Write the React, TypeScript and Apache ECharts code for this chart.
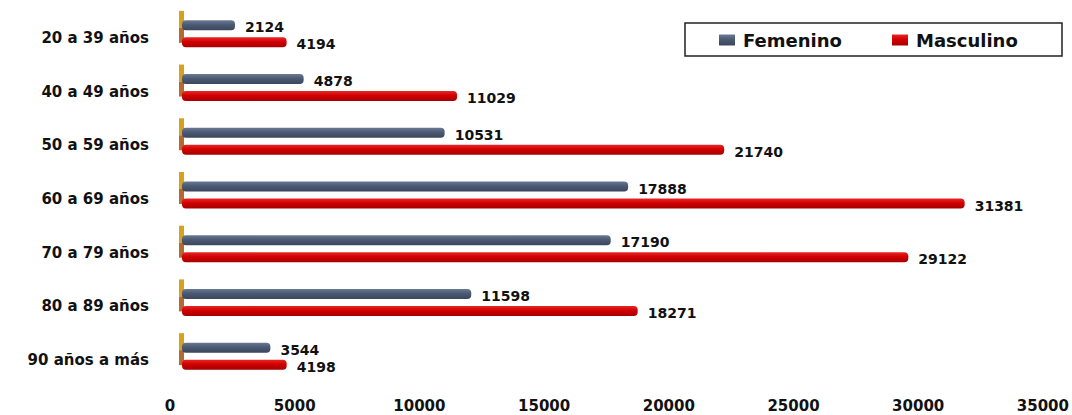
import React, { useEffect, useRef } from 'react';
import * as echarts from 'echarts';

const categories = ['20 a 39 años', '40 a 49 años', '50 a 59 años', '60 a 69 años', '70 a 79 años', '80 a 89 años', '90 años a más'];
const femenino = [2124, 4878, 10531, 17888, 17190, 11598, 3544];
const masculino = [4194, 11029, 21740, 31381, 29122, 18271, 4198];
const xMin = 0;
const xMax = 35000;
const xStep = 5000;
const seriesNames = ['Femenino', 'Masculino'];

const FONT = 'DejaVu Sans';

export default function App() {
  const ref = useRef<HTMLDivElement>(null);
  useEffect(() => {
    if (!ref.current) return;
    const chart = echarts.init(ref.current, null, { renderer: 'svg' });
    const grad = (a: string, b: string, c: string) =>
      new echarts.graphic.LinearGradient(0, 0, 0, 1, [
        { offset: 0, color: a },
        { offset: 0.45, color: b },
        { offset: 1, color: c },
      ]);
    const labelStyle = {
      show: true,
      position: 'right' as const,
      distance: 10,
      offset: [0, 2],
      color: '#111',
      fontFamily: FONT,
      fontWeight: 'bold' as const,
      fontSize: 14,
    };
    const legendBase = {
      top: 31,
      padding: 0,
      itemWidth: 16,
      itemHeight: 11,
      icon: 'rect',
      textStyle: { fontFamily: FONT, fontWeight: 'bold', fontSize: 18, color: '#111', padding: [0, 0, 0, 3] },
    };
    chart.setOption({
      animation: false,
      backgroundColor: '#fff',
      grid: { left: 182, right: 16, top: 7, bottom: 32, containLabel: false },
      xAxis: {
        type: 'value',
        min: xMin,
        max: xMax,
        interval: xStep,
        axisLine: { show: false },
        axisTick: { show: false },
        splitLine: { show: false },
        axisLabel: {
          margin: 15,
          formatter: (v: number) => '{a|' + v + '}',
          rich: {
            a: { fontFamily: FONT, fontWeight: 'bold', fontSize: 15, color: '#111', padding: [0, 24, 0, 0] },
          },
        },
      },
      yAxis: {
        type: 'category',
        inverse: true,
        data: categories,
        axisLine: { show: false },
        axisTick: { show: false },
        splitLine: { show: false },
        axisLabel: {
          margin: 33,
          formatter: (v: string) => '{a|' + v + '}',
          rich: {
            a: { fontFamily: FONT, fontWeight: 'bold', fontSize: 15, color: '#111', padding: [8, 0, 0, 0] },
          },
        },
      },
      legend: [
        { ...legendBase, data: [seriesNames[0]], left: 719 },
        { ...legendBase, data: [seriesNames[1]], left: 892 },
      ],
      graphic: [
        {
          type: 'rect',
          shape: { x: 685, y: 23, width: 377, height: 33 },
          style: { fill: 'none', stroke: '#222', lineWidth: 1.5 },
          z: 0,
        },
      ],
      series: [
        {
          type: 'custom',
          z: 1,
          silent: true,
          data: categories.map((c) => [0, c]),
          encode: { x: 0, y: 1 },
          renderItem: (params: any, api: any) => {
            const p = api.coord([0, api.value(1)]);
            const c = p[1];
            return {
              type: 'group',
              children: [
                { type: 'rect', shape: { x: p[0] - 3, y: c - 23, width: 5, height: 17 }, style: { fill: '#D6A21E' } },
                { type: 'rect', shape: { x: p[0] - 3, y: c - 6, width: 5, height: 15 }, style: { fill: '#B3692F' } },
              ],
            };
          },
        },
        {
          name: seriesNames[0],
          type: 'bar',
          z: 2,
          data: femenino,
          barWidth: 10,
          barGap: '70%',
          itemStyle: {
            color: grad('#6B7A94', '#4B5972', '#3A465C'),
            borderRadius: 4,
          },
          label: labelStyle,
        },
        {
          name: seriesNames[1],
          type: 'bar',
          z: 2,
          data: masculino,
          barWidth: 10,
          barGap: '70%',
          itemStyle: {
            color: grad('#E62828', '#D20000', '#A40000'),
            borderRadius: 4,
          },
          label: labelStyle,
        },
      ],
      color: ['#4B5972', '#D20000'],
    });
    return () => chart.dispose();
  }, []);
  return <div ref={ref} style={{ position: 'absolute', left: 0, top: 0, width: 1072, height: 415 }} />;
}
